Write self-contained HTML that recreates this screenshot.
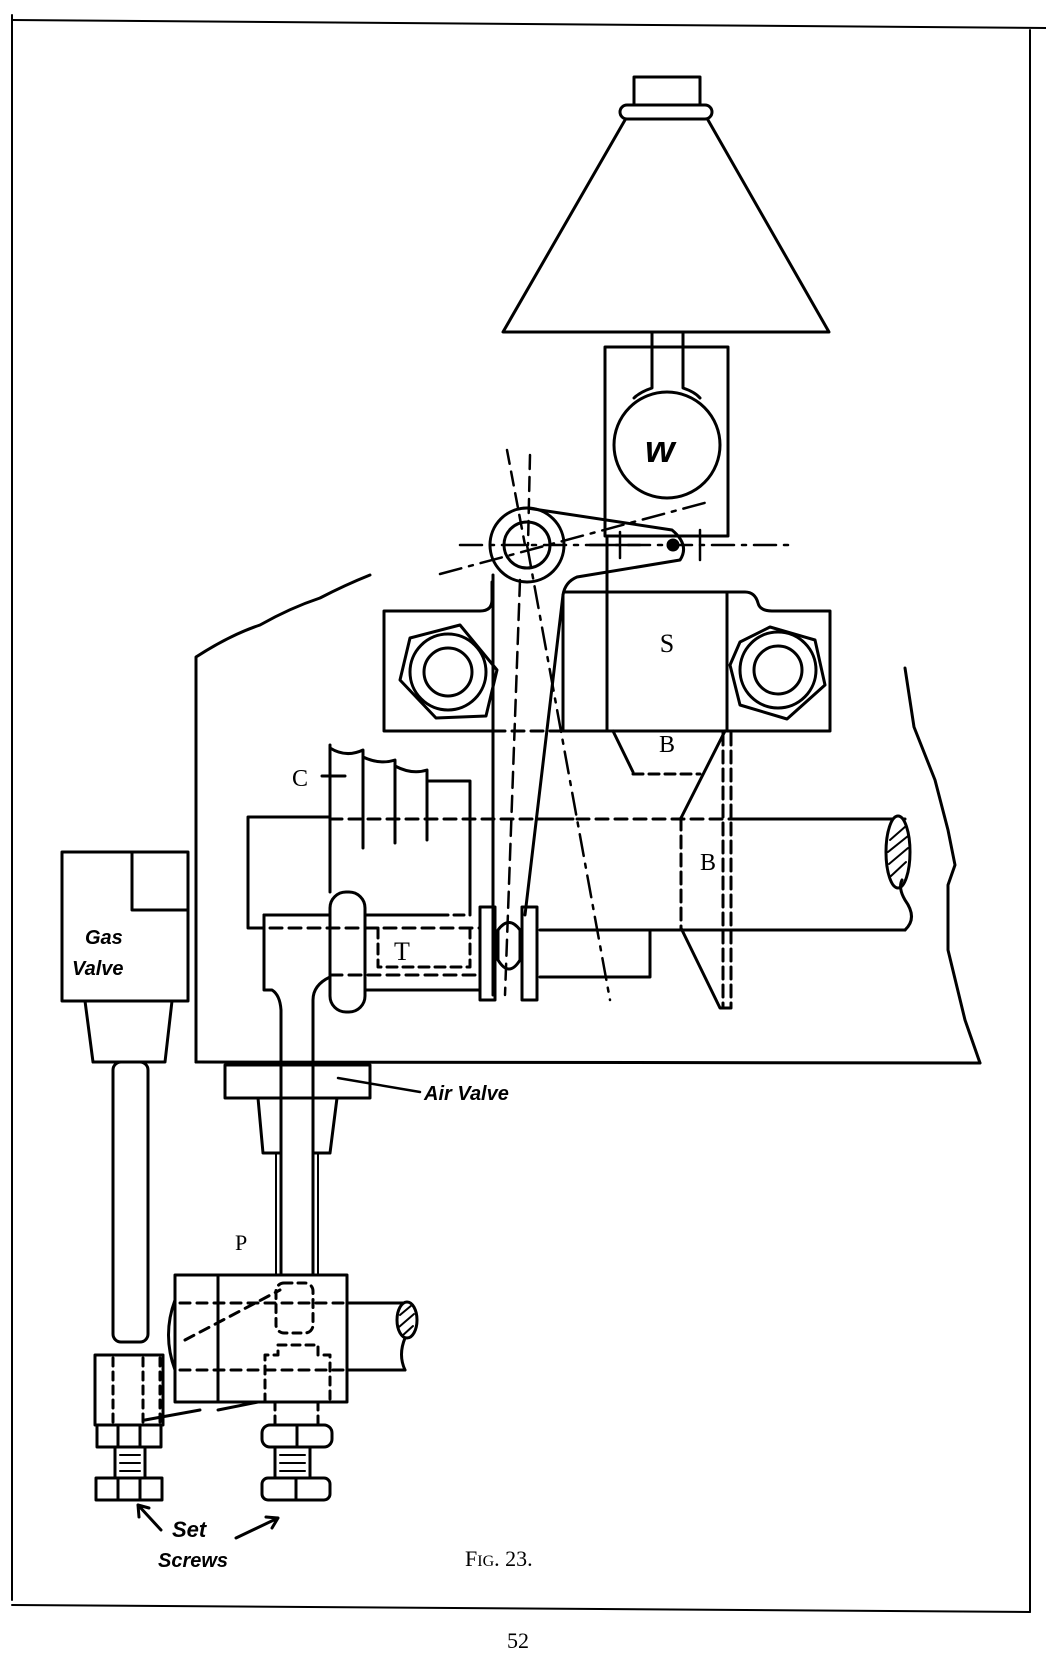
<!DOCTYPE html>
<html><head><meta charset="utf-8"><style>
html,body{margin:0;padding:0;background:#fff}
svg{display:block}
.h{font-family:"Liberation Sans",sans-serif;font-style:italic;font-weight:bold}
</style></head><body>
<svg width="1046" height="1657" viewBox="0 0 1046 1657" xmlns="http://www.w3.org/2000/svg" fill="none" stroke="#000" stroke-width="3" stroke-linejoin="round" stroke-linecap="round">
<!-- page border -->
<path d="M12 20 L1046 28" stroke-width="2"/>
<path d="M12 15 L12 1600" stroke-width="2"/>
<path d="M1030 30 L1030 1612" stroke-width="2"/>
<path d="M12 1605 L1030 1612" stroke-width="2"/>

<!-- funnel -->
<rect x="634" y="77" width="66" height="28"/>
<rect x="620" y="105" width="92" height="14" rx="7"/>
<path d="M625 120 L503 332 L829 332 L708 120"/>
<!-- housing with ball -->
<rect x="605" y="347" width="123" height="189"/>
<path d="M652 332 L652 388 Q640 392 634 398 M683 332 L683 388 Q695 392 700 398"/>
<circle cx="667" cy="445" r="53"/>
<text x="645" y="462" class="h" font-size="38" fill="#000" stroke="none">w</text>

<!-- lever -->
<circle cx="527" cy="545" r="37"/>
<circle cx="527" cy="545" r="23"/>
<path d="M527 508 L672 530 Q690 545 680 560 L577 577 Q565 582 563 595 L525 915"/>
<path d="M493 575 L493 995"/>
<circle cx="673" cy="545" r="5" fill="#000"/>
<!-- centerlines -->
<path d="M460 545 L790 545" stroke-width="2.5" stroke-dasharray="22 8 4 8"/>
<path d="M440 574 L708 502" stroke-width="2.5" stroke-dasharray="22 8 4 8"/>
<path d="M507 450 L525 545" stroke-width="2.5" stroke-dasharray="14 8"/>
<path d="M530 455 L528 545" stroke-width="2.5" stroke-dasharray="14 8"/>
<path d="M527 545 L610 1000" stroke-width="2.5" stroke-dasharray="22 8 4 8"/>
<path d="M520 580 L505 995" stroke-width="2.5" stroke-dasharray="16 8"/>
<path d="M590 545 L640 545 M620 532 L620 558 M700 530 L700 560" stroke-width="2.5"/>

<!-- bracket -->
<path d="M492 582 L492 600 Q492 611 480 611 L384 611 L384 731 L493 731"/>
<path d="M493 731 L565 731" stroke-dasharray="12 7"/>
<path d="M563 595 L563 731 L727 731 L727 592 L565 592"/>
<path d="M607 536 L607 731"/>
<path d="M727 592 L745 592 Q755 592 758 603 Q760 611 772 611 L830 611 L830 731 L727 731"/>
<text x="667" y="652" font-family="Liberation Serif,serif" font-size="26" fill="#000" stroke="none" text-anchor="middle">S</text>
<!-- bolts -->
<polygon points="410,638 460,625 497,670 486,716 436,718 400,680"/>
<circle cx="448" cy="672" r="38"/><circle cx="448" cy="672" r="24"/>
<polygon points="740,642 770,627 815,640 825,685 787,719 740,705 730,665"/>
<circle cx="778" cy="670" r="38"/><circle cx="778" cy="670" r="24"/>

<!-- B below S -->
<path d="M613 731 L633 772"/>
<path d="M633 774 L700 774" stroke-dasharray="10 6"/>
<path d="M725 731 L681 818"/>
<path d="M681 818 L681 928" stroke-dasharray="12 6"/>
<path d="M681 928 L720 1008 L730 1008"/>
<path d="M723 733 L723 1008 M731 733 L731 1008" stroke-dasharray="12 6"/>
<text x="667" y="752" font-family="Liberation Serif,serif" font-size="24" fill="#000" stroke="none" text-anchor="middle">B</text>
<text x="708" y="870" font-family="Liberation Serif,serif" font-size="24" fill="#000" stroke="none" text-anchor="middle">B</text>

<!-- shaft -->
<path d="M729 819 L905 819 M540 930 L905 930 M537 819 L573 819"/>
<path d="M330 819 L729 819" stroke-dasharray="12 7"/>
<path d="M650 930 L650 977 L540 977"/>
<ellipse cx="898" cy="852" rx="12" ry="36" fill="#fff"/>
<path d="M890 840 L906 826 M888 852 L908 836 M889 864 L908 848 M891 876 L906 862" stroke-width="2"/>
<path d="M905 930 Q918 918 905 900 Q898 888 902 880"/>

<!-- left hub & T -->
<path d="M330 817 L248 817 L248 928 L264 928"/>
<path d="M264 915 L264 990 L272 990 Q280 995 281 1010 L281 1275"/>
<path d="M264 915 L330 915 M365 915 L438 915"/>
<path d="M438 915 L470 915" stroke-dasharray="10 6"/>
<path d="M270 928 L480 928" stroke-dasharray="12 7"/>
<path d="M378 928 L378 967 L470 967 L470 928" stroke-dasharray="10 6"/>
<path d="M330 975 L480 975" stroke-dasharray="12 7"/>
<path d="M365 990 L480 990"/>
<path d="M313 1275 L313 1000 Q313 985 330 977"/>
<text x="402" y="960" font-family="Liberation Serif,serif" font-size="26" fill="#000" stroke="none" text-anchor="middle">T</text>
<!-- collar -->
<rect x="330" y="892" width="35" height="120" rx="16"/>
<!-- plates -->
<rect x="480" y="907" width="15" height="93"/>
<rect x="522" y="907" width="15" height="93"/>
<path d="M498 960 L498 930 Q509 915 520 930 L520 960 Q509 978 498 960"/>
<!-- pulley C -->
<path d="M330 745 L330 892"/>
<path d="M330 748 Q346 758 363 750 L363 848 M363 757 Q380 765 395 760 L395 843 M395 766 Q412 775 427 770 L427 840"/>
<path d="M427 781 L470 781 L470 915"/>
<path d="M322 776 L345 776"/>
<text x="300" y="786" font-family="Liberation Serif,serif" font-size="24" fill="#000" stroke="none" text-anchor="middle">C</text>

<!-- frame -->
<path d="M196 1062 L196 657 Q230 635 260 625 Q290 608 320 598 Q345 585 370 575"/>
<path d="M196 1062 L980 1063"/>
<path d="M905 668 L914 727 L935 780 L948 830 L955 865 L948 885 L948 950 L965 1020 L980 1063"/>

<!-- gas valve -->
<path d="M62 852 L188 852 L188 1001 L62 1001 Z"/>
<path d="M132 852 L132 910 L188 910"/>
<path d="M85 1001 L93 1062 L165 1062 L172 1001"/>
<rect x="113" y="1062" width="35" height="280" rx="8"/>
<text x="85" y="944" class="h" font-size="20" fill="#000" stroke="none">Gas</text>
<text x="72" y="975" class="h" font-size="20" fill="#000" stroke="none">Valve</text>

<!-- air valve -->
<rect x="225" y="1065" width="145" height="33"/>
<path d="M258 1098 L263 1153 L281 1153 M337 1098 L330 1153 L313 1153"/>
<path d="M276 1153 L276 1275 M318 1153 L318 1275" stroke-width="2"/>
<path d="M338 1078 L420 1092" stroke-width="2.5"/>
<text x="424" y="1100" class="h" font-size="20" fill="#000" stroke="none">Air Valve</text>

<!-- P block -->
<text x="235" y="1250" font-family="Liberation Serif,serif" font-size="22" fill="#000" stroke="none">P</text>
<rect x="175" y="1275" width="172" height="127"/>
<path d="M218 1275 L218 1402"/>
<path d="M175 1300 Q162 1335 175 1370"/>
<path d="M180 1303 L347 1303 M180 1370 L347 1370" stroke-dasharray="10 7"/>
<path d="M185 1340 L280 1290" stroke-dasharray="10 7"/>
<rect x="276" y="1283" width="37" height="50" rx="8" stroke-dasharray="8 6"/>
<path d="M265 1402 L265 1355 L278 1355 L278 1345 L318 1345 L318 1355 L330 1355 L330 1402" stroke-dasharray="8 6"/>
<path d="M347 1303 L405 1303 M347 1370 L405 1370"/>
<ellipse cx="407" cy="1320" rx="10" ry="18" fill="#fff"/>
<path d="M400 1315 L412 1305 M399 1327 L414 1314 M402 1336 L413 1326" stroke-width="2"/>
<path d="M405 1338 Q398 1355 405 1370"/>
<!-- left nut stack -->
<rect x="95" y="1355" width="68" height="70"/>
<path d="M113 1358 L113 1422 M143 1358 L143 1422 M160 1358 L160 1422" stroke-dasharray="8 6"/>
<path d="M145 1420 L200 1410 M218 1410 L258 1402"/>
<path d="M97 1425 h64 v22 h-64 z M118 1425 v22 M140 1425 v22"/>
<rect x="115" y="1447" width="30" height="31"/>
<path d="M120 1455 h20 M120 1463 h20 M120 1471 h20" stroke-width="2"/>
<rect x="96" y="1478" width="66" height="22"/>
<path d="M118 1478 v22 M140 1478 v22"/>
<!-- right nut stack -->
<path d="M275 1402 L275 1425 M318 1402 L318 1425" stroke-dasharray="8 6"/>
<rect x="262" y="1425" width="70" height="22" rx="8"/>
<path d="M297 1425 v22"/>
<rect x="275" y="1447" width="35" height="31"/>
<path d="M280 1455 h25 M280 1463 h25 M280 1471 h25" stroke-width="2"/>
<rect x="262" y="1478" width="68" height="22" rx="6"/>
<path d="M296 1478 v22"/>

<!-- set screws label -->
<path d="M161 1530 L138 1505 M138 1505 L139 1517 M138 1505 L149 1508"/>
<path d="M236 1538 L278 1518 M278 1518 L266 1517 M278 1518 L272 1528"/>
<text x="172" y="1537" class="h" font-size="22" fill="#000" stroke="none">Set</text>
<text x="158" y="1567" class="h" font-size="20" fill="#000" stroke="none">Screws</text>

<text x="465" y="1566" font-family="Liberation Serif,serif" font-size="22" fill="#000" stroke="none">F<tspan font-size="16">IG</tspan>. 23.</text>
<text x="518" y="1648" font-family="Liberation Serif,serif" font-size="22" fill="#000" stroke="none" text-anchor="middle">52</text>
</svg>
</body></html>
